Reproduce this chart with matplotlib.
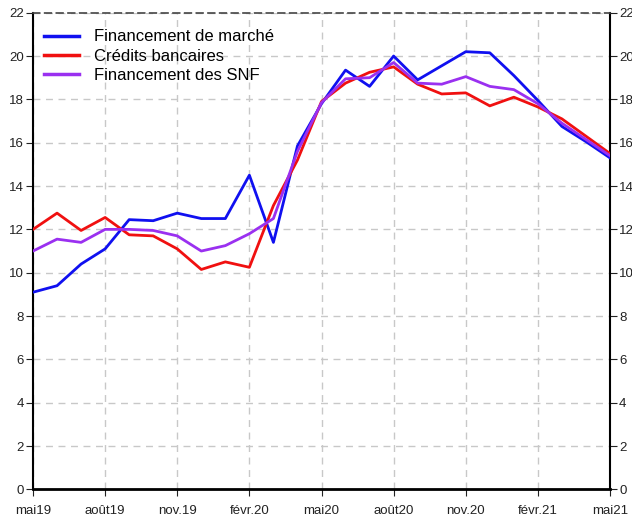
import matplotlib
matplotlib.use("Agg")
import matplotlib.pyplot as plt

plt.rcParams['font.family'] = ['Liberation Sans', 'DejaVu Sans']

months = list(range(25))
tick_pos = [0, 3, 6, 9, 12, 15, 18, 21, 24]
tick_labels = ["mai19", "août19", "nov.19", "févr.20", "mai20", "août20", "nov.20", "févr.21", "mai21"]

marche = [9.1, 9.4, 10.4, 11.1, 12.45, 12.4, 12.75, 12.5, 12.5, 14.5, 11.4, 15.85,
          17.8, 19.35, 18.6, 20.0, 18.9, 19.55, 20.2, 20.15, 19.1, 17.95, 16.75, 16.05, 15.3]
credits = [12.0, 12.75, 11.95, 12.55, 11.75, 11.7, 11.1, 10.15, 10.5, 10.25, 13.1, 15.2,
           17.9, 18.75, 19.25, 19.5, 18.7, 18.25, 18.3, 17.7, 18.1, 17.65, 17.1, 16.3, 15.5]
snf = [11.0, 11.55, 11.4, 12.0, 12.0, 11.95, 11.7, 11.0, 11.25, 11.8, 12.5, 15.6,
       17.85, 18.95, 19.0, 19.7, 18.75, 18.7, 19.05, 18.6, 18.45, 17.8, 16.9, 16.15, 15.4]

fig = plt.figure(figsize=(6.32, 5.2), dpi=100)
ax = fig.add_axes([33/632, 1-489.4/520, (610-33)/632, (489.4-12.7)/520])

ax.plot(months, marche, color='#1010f0', lw=2.0, label='Financement de marché', zorder=3)
ax.plot(months, credits, color='#f01010', lw=2.0, label='Crédits bancaires', zorder=3)
ax.plot(months, snf, color='#9a30f0', lw=2.0, label='Financement des SNF', zorder=3)

ax.set_xlim(0, 24)
ax.set_ylim(0, 22)
ax.set_yticks(range(0, 23, 2))
ax.set_xticks(tick_pos)
ax.set_xticklabels(tick_labels)
ax.grid(True, color='#c8c8c8', linestyle=(0, (5, 4)), lw=1.0, zorder=0)
ax.tick_params(axis='both', direction='out', length=5, labelsize=9.5, colors='#222222',
               right=True, labelright=True, pad=1.5)
ax.tick_params(axis='x', pad=6)

for s in ['left', 'right']:
    ax.spines[s].set_linewidth(1.5)
    ax.spines[s].set_color('black')
ax.spines['bottom'].set_linewidth(2.0)
ax.spines['bottom'].set_color('black')
ax.spines['top'].set_linestyle((0, (4, 3)))
ax.spines['top'].set_color('#444444')
ax.spines['top'].set_linewidth(1.2)

leg = ax.legend(loc='upper left', frameon=False, fontsize=12, handlelength=2.1,
                handletextpad=0.9, labelspacing=0.25, borderaxespad=0.6,
                bbox_to_anchor=(-0.009, 1.0))
for line in leg.get_lines():
    line.set_linewidth(2.5)

fig.savefig('out.png', dpi=100)
